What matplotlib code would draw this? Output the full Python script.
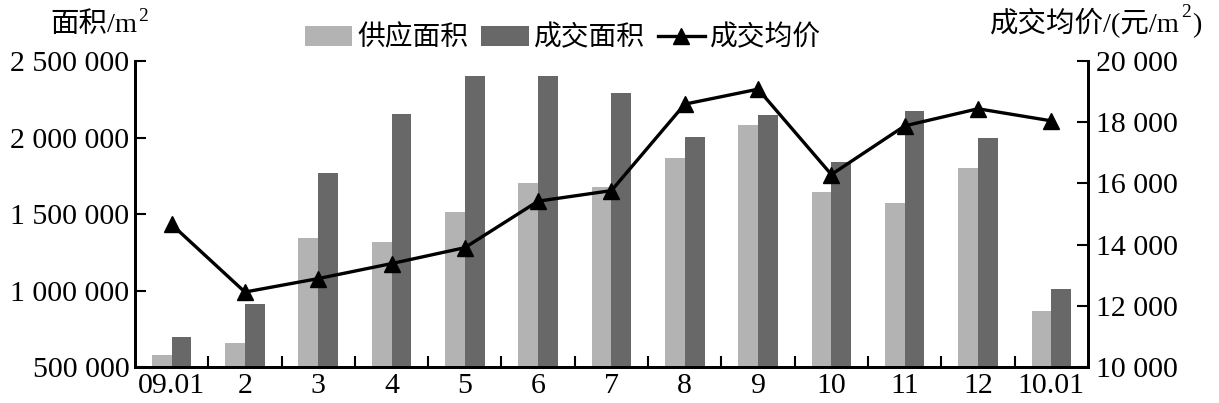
import matplotlib
matplotlib.use("Agg")
import matplotlib.pyplot as plt
from matplotlib.ticker import FuncFormatter, FixedLocator
from matplotlib.lines import Line2D
from matplotlib.patches import Patch
import numpy as np

plt.rcParams['font.family'] = ['Liberation Serif', 'Noto Sans CJK SC', 'DejaVu Sans']

categories = ["09.01", "2", "3", "4", "5", "6", "7", "8", "9", "10", "11", "12", "10.01"]
supply_area = [580000, 660000, 1340000, 1317000, 1515000, 1700000, 1674000, 1864000,
               2080000, 1646000, 1572000, 1800000, 868000]
deal_area = [694000, 912000, 1768000, 2154000, 2402000, 2400000, 2289000, 2003000,
             2145000, 1840000, 2173000, 1997000, 1010000]
avg_price = [14660, 12450, 12890, 13380, 13900, 15420, 15765, 18590, 19080, 16290,
             17880, 18440, 18045]
left_ticks = [500000, 1000000, 1500000, 2000000, 2500000]
right_ticks = [10000, 12000, 14000, 16000, 18000, 20000]

light = "#b3b3b3"
dark = "#686868"

fig = plt.figure(figsize=(12.19, 4.03), dpi=100)
ax = fig.add_axes([0.1107, 0.0893, 0.7818, 0.7593])
ax2 = ax.twinx()

x = np.arange(len(categories))
w = 0.27
ax.bar(x - w / 2, supply_area, width=w, color=light, zorder=2)
ax.bar(x + w / 2, deal_area, width=w, color=dark, zorder=2)
ax2.plot(x, avg_price, color="black", lw=2.4, marker="^", markersize=11, zorder=3)

ax.set_xlim(-0.5, len(categories) - 0.5)
ax.set_ylim(500000, 2500000)
ax2.set_ylim(10000, 20000)

fmt = lambda v, p: f"{int(v):,}".replace(",", " ")
ax.yaxis.set_major_locator(FixedLocator(left_ticks))
ax.yaxis.set_major_formatter(FuncFormatter(fmt))
ax2.yaxis.set_major_locator(FixedLocator(right_ticks))
ax2.yaxis.set_major_formatter(FuncFormatter(fmt))

fs = 21.5
ax.set_xticks(x)
ax.set_xticklabels(categories)
ax.set_xticks(np.arange(0.5, len(categories) - 1, 1.0), minor=True)
ax.tick_params(axis="x", which="major", length=0, pad=4, labelsize=fs)
ax.tick_params(axis="x", which="minor", direction="in", length=8, width=1.5)
ax.tick_params(axis="y", direction="in", length=8, width=1.5, labelsize=fs, pad=4)
ax2.tick_params(axis="y", direction="in", length=8, width=1.5, labelsize=fs, pad=6)

for a in (ax, ax2):
    a.spines["top"].set_visible(False)
    for s in ("left", "right", "bottom"):
        a.spines[s].set_linewidth(2)

# left axis title: 面积/m^2
lt = fig.text(0.041, 0.905, "面积/m", ha="left", va="bottom", fontsize=20.5)
ax.annotate("2", xy=(1, 1), xycoords=lt, xytext=(1, -9), textcoords="offset points",
            ha="left", va="bottom", fontsize=14, annotation_clip=False)

# right axis title: 成交均价/(元/m^2)
rt = fig.text(0.812, 0.905, "成交均价/(元/m", ha="left", va="bottom", fontsize=20.5)
sup = ax.annotate("2", xy=(1, 1), xycoords=rt, xytext=(1, -9), textcoords="offset points",
                  ha="left", va="bottom", fontsize=14, annotation_clip=False)
ax.annotate(")", xy=(1, 0), xycoords=(sup, rt), xytext=(0.5, 0), textcoords="offset points",
            ha="left", va="bottom", fontsize=20.5, annotation_clip=False)

handles = [Patch(facecolor=light), Patch(facecolor=dark),
           Line2D([], [], color="black", lw=2.4, marker="^", markersize=11)]
labels = ["供应面积", "成交面积", "成交均价"]
fig.legend(handles, labels, loc="center", bbox_to_anchor=(0.462, 0.905), ncol=3,
           frameon=False, fontsize=20, handlelength=1.7, handletextpad=0.2,
           columnspacing=0.45)

fig.savefig("out.png", dpi=100)
